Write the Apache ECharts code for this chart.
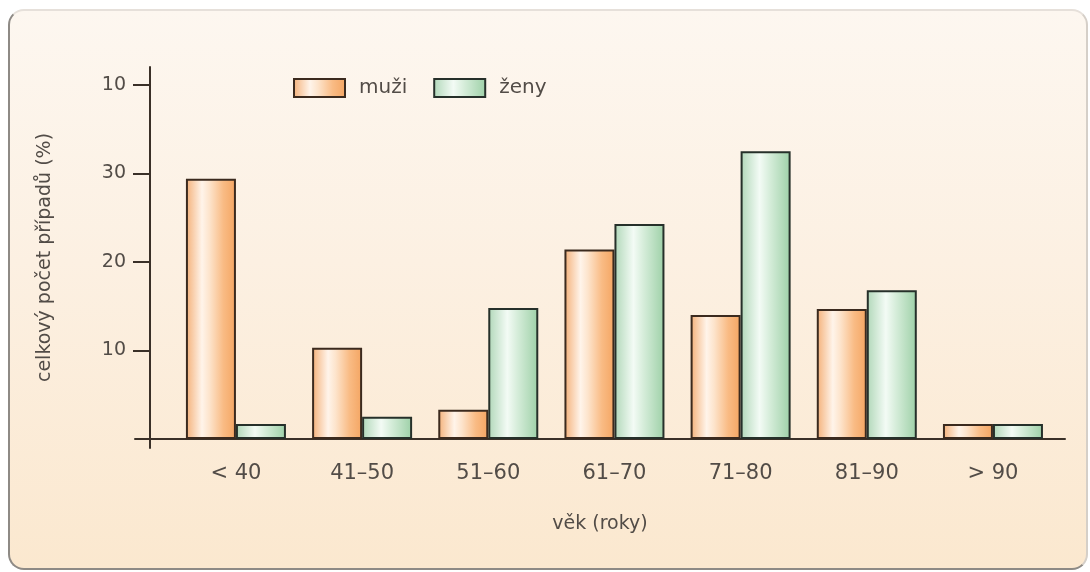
<!DOCTYPE html>
<html>
<head>
<meta charset="utf-8">
<script src="https://cdn.jsdelivr.net/npm/echarts@6/dist/echarts.min.js"></script>
<style>
  html, body { margin: 0; padding: 0; background: #ffffff; }
  #bg {
    position: absolute; left: 8px; top: 9px; width: 1076px; height: 557px;
    border: 2px solid #8e8a85; border-top-color: #e6e0da; border-right-color: #d5cfc8;
    border-radius: 16px;
    background: linear-gradient(180deg, #fdf7f0 0%, #fcf0e2 45%, #fbe8cf 100%);
  }
  #chart { position: absolute; left: 0; top: 0; width: 1090px; height: 572px; }
</style>
</head>
<body>
<div id="bg"></div>
<div id="chart"></div>
<script>
// ---- data ----
const categories = ['< 40', '41–50', '51–60', '61–70', '71–80', '81–90', '> 90'];
const muzi = [29.4, 10.3, 3.3, 21.4, 14.0, 14.7, 1.7];
const zeny = [1.7, 2.5, 14.8, 24.3, 32.5, 16.8, 1.7];
const yTickValues = [10, 20, 30, 40];
const yTickLabels = ['10', '20', '30', '10'];
const seriesNames = ['muži', 'ženy'];
const xTitle = 'věk (roky)';
const yTitle = 'celkový počet případů (%)';

const catIdx = categories.map((_, i) => i);
const toPairs = arr => arr.map((v, i) => [i, v]);

const orangeFill = new echarts.graphic.LinearGradient(0, 0, 1, 0, [
  { offset: 0, color: '#f4b078' },
  { offset: 0.32, color: '#fff4ea' },
  { offset: 0.47, color: '#fde4cc' },
  { offset: 0.75, color: '#f9bb84' },
  { offset: 1, color: '#f4a562' }
]);
const greenFill = new echarts.graphic.LinearGradient(0, 0, 1, 0, [
  { offset: 0, color: '#b0d7b8' },
  { offset: 0.38, color: '#f3fbf5' },
  { offset: 0.58, color: '#d6edda' },
  { offset: 1, color: '#9dd0a7' }
]);

const textColor = '#524c47';
const axisColor = '#3a3028';
const font = 'DejaVu Sans';

const chart = echarts.init(document.getElementById('chart'));
chart.setOption({
  backgroundColor: 'transparent',
  animation: false,
  textStyle: { fontFamily: font },
  legend: {
    left: 288, top: 73,
    itemWidth: 51, itemHeight: 18, itemGap: 26,
    icon: 'rect',
    textStyle: { fontFamily: font, fontSize: 20, color: textColor, padding: [0, 0, 0, 9] },
    data: seriesNames
  },
  grid: { left: 135, right: 25, top: 67, bottom: 572 - 448 },
  xAxis: {
    type: 'value',
    min: -0.8, max: 6.571,
    splitLine: { show: false },
    axisLine: { show: true, onZero: true, lineStyle: { color: axisColor, width: 2 } },
    axisTick: { show: false },
    axisLabel: {
      customValues: catIdx,
      formatter: v => categories[v],
      fontFamily: font, fontSize: 21, color: textColor, margin: 15
    },
    name: xTitle,
    nameLocation: 'middle',
    nameGap: 67,
    nameTextStyle: { fontFamily: font, fontSize: 19, color: textColor }
  },
  yAxis: {
    type: 'value',
    min: -1.02, max: 42.03,
    offset: -15,
    splitLine: { show: false },
    axisLine: { show: true, onZero: false, lineStyle: { color: axisColor, width: 2 } },
    axisTick: { show: true, customValues: yTickValues, length: 17, lineStyle: { color: axisColor, width: 2 } },
    axisLabel: {
      customValues: yTickValues,
      formatter: v => yTickLabels[yTickValues.indexOf(v)],
      fontFamily: font, fontSize: 19, color: textColor, margin: 24
    },
    name: yTitle,
    nameLocation: 'middle',
    nameRotate: 90,
    nameGap: 95,
    nameTextStyle: { fontFamily: font, fontSize: 19, color: textColor }
  },
  series: [
    {
      name: seriesNames[0], type: 'bar', data: toPairs(muzi),
      barWidth: 50, barGap: '0%',
      itemStyle: { color: orangeFill, borderColor: '#3b2a1e', borderWidth: 2 }
    },
    {
      name: seriesNames[1], type: 'bar', data: toPairs(zeny),
      barWidth: 50, barGap: '0%',
      itemStyle: { color: greenFill, borderColor: '#26302a', borderWidth: 2 }
    }
  ]
});
</script>
</body>
</html>
